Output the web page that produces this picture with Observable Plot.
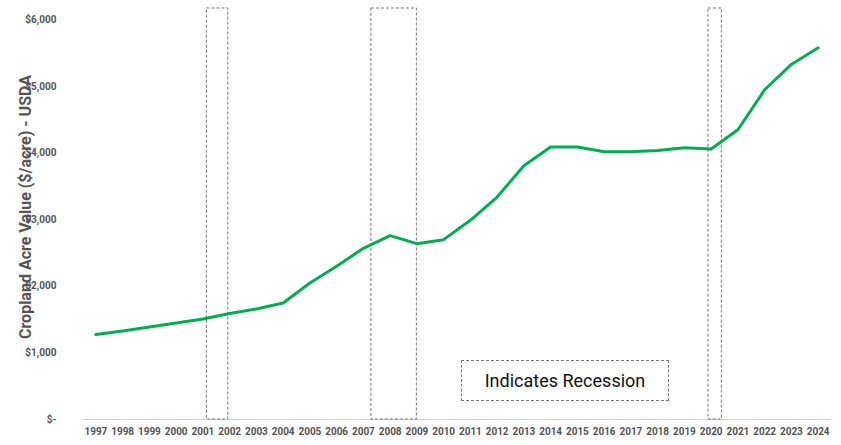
<!DOCTYPE html>
<html><head><meta charset="utf-8">
<script src="https://cdn.jsdelivr.net/npm/d3@7"></script>
<script src="https://cdn.jsdelivr.net/npm/@observablehq/plot@0.6"></script>
<style>
body{margin:0;background:#fff;font-family:Roboto,sans-serif;}
#wrap{position:relative;width:841px;height:445px;}
#legend{position:absolute;left:461px;top:360px;width:206px;height:39px;border:1px dashed #777;display:flex;align-items:center;justify-content:center;font-size:18px;color:#111;background:#fff;}
</style></head><body>
<div id="wrap"><div id="chart"></div><div id="legend">Indicates Recession</div></div>
<script>
const years = d3.range(1997, 2025);
const values = [1275,1330,1390,1450,1510,1590,1660,1750,2050,2300,2570,2760,2640,2700,2990,3340,3810,4090,4090,4020,4020,4040,4080,4060,4350,4950,5330,5580];
const recStart = [2001.15, 2007.3, 2019.9];
const recEnd = [2001.95, 2009.0, 2020.4];
const yTicks = [0,1000,2000,3000,4000,5000,6000];
const data = years.map((y,i)=>({year:y,value:values[i]}));
const rec = recStart.map((s,i)=>({x1:s,x2:recEnd[i],y1:0,y2:6170}));
const fmt = v => v===0 ? "$-" : "$" + d3.format(",")(v);
const chart = Plot.plot({
  width:841,height:445,marginLeft:82,marginRight:10,marginTop:6,marginBottom:26,
  style:{fontFamily:"Roboto, sans-serif",fontSize:"10px",fontWeight:"bold",color:"#555",background:"transparent"},
  x:{domain:[1996.5,2024.5],ticks:years,tickFormat:d=>String(d),label:null,tickSize:0,tickPadding:8},
  y:{domain:[0,6200],ticks:yTicks,tickFormat:fmt,label:null,tickSize:0,tickPadding:26},
  marks:[
    Plot.ruleY([0],{stroke:"#d0d0d0"}),
    Plot.rect(rec,{x1:"x1",x2:"x2",y1:"y1",y2:"y2",fill:"none",stroke:"#777",strokeDasharray:"3,2",strokeWidth:1}),
    Plot.line(data,{x:"year",y:"value",stroke:"#00b050",strokeWidth:3}),
    Plot.text(["Cropland Acre Value ($/acre) - USDA"],{frameAnchor:"left",textAnchor:"middle",dx:-57,dy:-6,rotate:-90,fontSize:16,fontWeight:"bold",fill:"#555"})
  ]
});
document.getElementById("chart").appendChild(chart);
</script></body></html>
